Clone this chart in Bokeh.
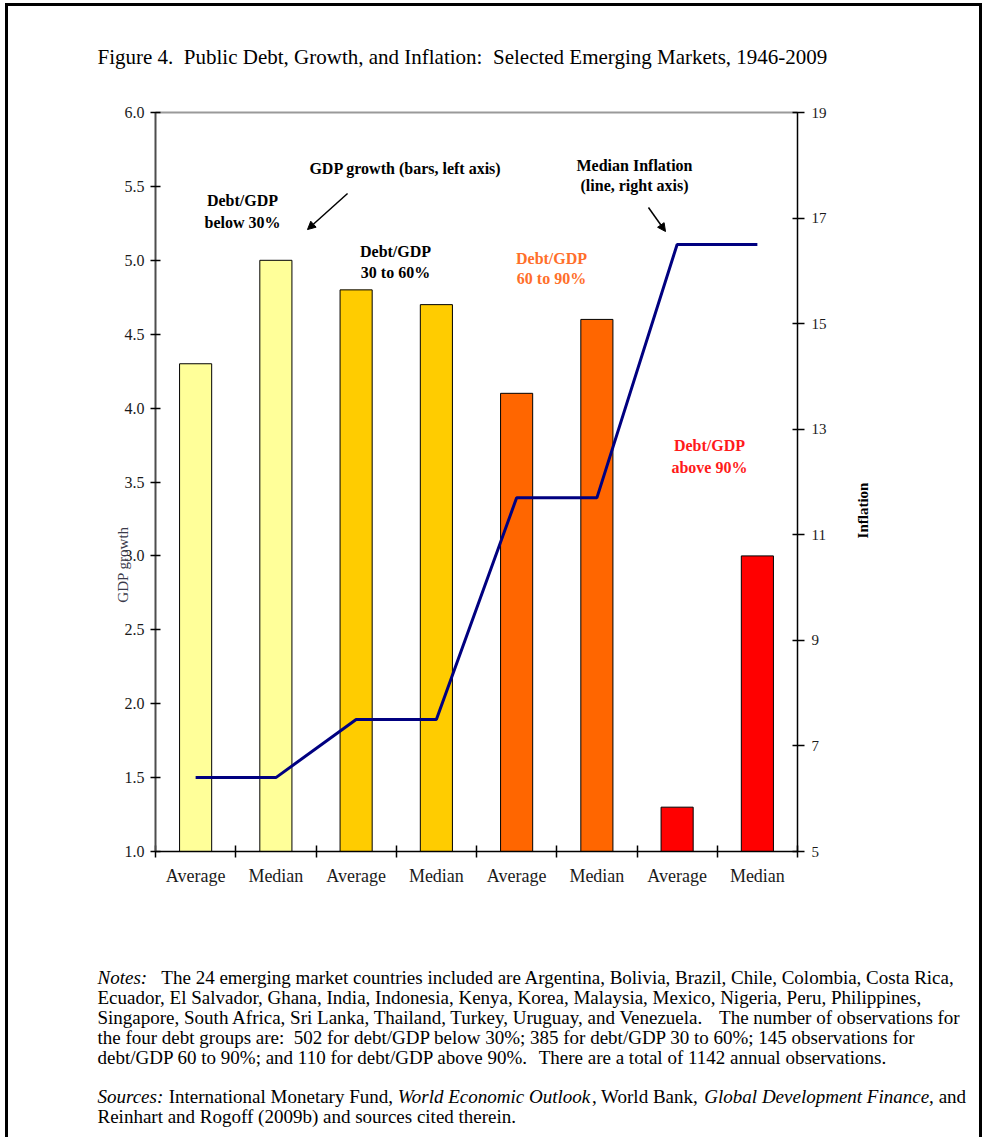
import math
import re
from bokeh.plotting import figure
from bokeh.models import (Range1d, LinearAxis, FixedTicker, Label, Arrow,
                          NormalHead, PrintfTickFormatter)
from bokeh.embed import file_html
from bokeh.resources import INLINE

# ---------------- data ----------------
groups = ["Debt/GDP below 30%", "Debt/GDP 30 to 60%", "Debt/GDP 60 to 90%", "Debt/GDP above 90%"]
stats = ["Average", "Median"]
gdp_growth = [4.3, 5.0, 4.8, 4.7, 4.1, 4.6, 1.3, 3.0]          # bars, left axis
median_inflation = [6.4, 6.4, 7.5, 7.5, 11.7, 11.7, 16.5, 16.5]  # line, right axis
group_colors = ["#FFFF99", "#FFCC00", "#FF6600", "#FF0000"]
left_ticks = [1.0, 1.5, 2.0, 2.5, 3.0, 3.5, 4.0, 4.5, 5.0, 5.5, 6.0]
right_ticks = [5, 7, 9, 11, 13, 15, 17, 19]
x_labels = [s for _ in groups for s in stats]
bar_colors = [c for c in group_colors for _ in stats]
xs = list(range(len(x_labels)))

title_text = "Figure 4.  Public Debt, Growth, and Inflation:  Selected Emerging Markets, 1946-2009"
notes_lines = [
    [("Notes:", True), ("   The 24 emerging market countries included are Argentina, Bolivia, Brazil, Chile, Colombia, Costa Rica,", False)],
    [("Ecuador, El Salvador, Ghana, India, Indonesia, Kenya, Korea, Malaysia, Mexico, Nigeria, Peru, Philippines,", False)],
    [("Singapore, South Africa, Sri Lanka, Thailand, Turkey, Uruguay, and Venezuela.  The number of observations for", False)],
    [("the four debt groups are:  502 for debt/GDP below 30%; 385 for debt/GDP 30 to 60%; 145 observations for", False)],
    [("debt/GDP 60 to 90%; and 110 for debt/GDP above 90%.  There are a total of 1142 annual observations.", False)],
]
sources_lines = [
    [("Sources:", True), (" International Monetary Fund, ", False), ("World Economic Outlook", True),
     (", World Bank, ", False), ("Global Development Finance,", True), (" and", False)],
    [("Reinhart and Rogoff (2009b) and sources cited therein.", False)],
]

SERIF = "Liberation Serif"

# ---------------- geometry ----------------
W, H = 977, 1134                 # canvas size
OX, OY = 8, 6                    # page position of the canvas origin
FL, FR, FT, FB = 147, 789, 106, 845   # chart area inside the canvas (px)

xlo, xhi = -0.5, len(xs) - 0.5
ylo, yhi = left_ticks[0], left_ticks[-1]
ilo, ihi = right_ticks[0], right_ticks[-1]
ppx = (FR - FL) / (xhi - xlo)
ppy = (FB - FT) / (yhi - ylo)
ppi = (FB - FT) / (ihi - ilo)

p = figure(width=W, height=H,
           x_range=Range1d(xlo - FL / ppx, xhi + (W - FR) / ppx),
           y_range=Range1d(ylo - (H - FB) / ppy, yhi + FT / ppy),
           x_axis_type=None, y_axis_type=None, toolbar_location=None, output_backend="svg",
           min_border=0, title=None)
p.extra_y_ranges = {"infl": Range1d(ilo - (H - FB) / ppi, ihi + FT / ppi)}
p.outline_line_color = None
p.background_fill_color = "white"
p.border_fill_color = "white"
p.styles = {"border-left": "3px solid black", "border-top": "3px solid black",
            "border-right": "3px solid black", "margin-left": "5px", "margin-top": "3px"}

def style_axis(ax, size):
    ax.major_label_text_font = SERIF
    ax.major_label_text_font_size = size
    ax.major_label_text_color = "#1a1a1a"
    ax.major_tick_line_color = "black"
    ax.major_tick_line_width = 1.5

xaxis = LinearAxis(ticker=FixedTicker(ticks=xs, minor_ticks=[i - 0.5 for i in range(len(xs) + 1)]),
                   major_label_overrides={i: lab for i, lab in enumerate(x_labels)},
                   fixed_location=ylo, bounds=(xlo, xhi))
style_axis(xaxis, "18px")
xaxis.major_tick_in = 0
xaxis.major_tick_out = 0
xaxis.minor_tick_in = 6
xaxis.minor_tick_out = 6
xaxis.minor_tick_line_color = "black"
xaxis.minor_tick_line_width = 1.5
xaxis.axis_line_color = "black"
xaxis.axis_line_width = 1.5
xaxis.major_label_standoff = 8
p.add_layout(xaxis, "below")

topline = LinearAxis(ticker=FixedTicker(ticks=[]), fixed_location=yhi, bounds=(xlo, xhi))
topline.axis_line_color = "#9a9a9a"
topline.axis_line_width = 2
topline.major_tick_line_color = None
topline.minor_tick_line_color = None
topline.major_label_text_font_size = "0px"
p.add_layout(topline, "above")

yaxis = LinearAxis(ticker=FixedTicker(ticks=left_ticks), formatter=PrintfTickFormatter(format="%.1f"),
                   fixed_location=xlo, bounds=(ylo, yhi))
style_axis(yaxis, "16px")
yaxis.major_tick_in = 5
yaxis.major_tick_out = 5
yaxis.axis_line_color = "#4d4d4d"
yaxis.axis_line_width = 2
yaxis.major_label_standoff = 6
p.add_layout(yaxis, "left")

raxis = LinearAxis(y_range_name="infl", ticker=FixedTicker(ticks=right_ticks),
                   fixed_location=xhi, bounds=(ilo, ihi))
style_axis(raxis, "15px")
raxis.major_tick_in = 5
raxis.major_tick_out = 7
raxis.axis_line_color = "black"
raxis.axis_line_width = 1.5
raxis.major_label_standoff = 7
p.add_layout(raxis, "right")

# bars and line
p.vbar(x=xs, top=gdp_growth, bottom=ylo, width=0.4, fill_color=bar_colors,
       line_color="black", line_width=1)
p.line(x=xs, y=median_inflation, y_range_name="infl", line_color="#000080", line_width=3)

# in-plot annotations (data coords)
def dlabel(x, y, text, color="black", size="16px", bold=True):
    p.add_layout(Label(x=x, y=y, text=text, text_align="center", text_baseline="middle",
                       text_font=SERIF, text_font_size=size, text_color=color,
                       text_font_style="bold" if bold else "normal"))

dlabel(2.615, 5.621, "GDP growth (bars, left axis)")
dlabel(0.584, 5.405, "Debt/GDP")
dlabel(0.584, 5.256, "below 30%")
dlabel(2.491, 5.060, "Debt/GDP")
dlabel(2.491, 4.917, "30 to 60%")
dlabel(4.435, 5.012, "Debt/GDP", color="#FF6F2A")
dlabel(4.435, 4.877, "60 to 90%", color="#FF6F2A")
dlabel(5.469, 5.641, "Median Inflation")
dlabel(5.469, 5.506, "(line, right axis)")
dlabel(6.403, 3.747, "Debt/GDP", color="#FF1A1A")
dlabel(6.403, 3.598, "above 90%", color="#FF1A1A")

p.add_layout(Arrow(end=NormalHead(size=8, fill_color="black", line_color="black"),
                   x_start=1.893, y_start=5.452, x_end=1.394, y_end=5.208,
                   line_color="black", line_width=1.5))
p.add_layout(Arrow(end=NormalHead(size=8, fill_color="black", line_color="black"),
                   x_start=5.643, y_start=5.357, x_end=5.855, y_end=5.195,
                   line_color="black", line_width=1.5))

# ---------------- texts around the chart (screen units) ----------------
REG = {' ': 250, '%': 833, '(': 333, ')': 333, ',': 250, '-': 333, '.': 250, '/': 278, ':': 278, ';': 278,
       'A': 722, 'B': 667, 'C': 667, 'D': 722, 'E': 611, 'F': 556, 'G': 722, 'H': 722, 'I': 333, 'J': 389,
       'K': 722, 'L': 611, 'M': 889, 'N': 722, 'O': 722, 'P': 556, 'Q': 722, 'R': 667, 'S': 556, 'T': 611,
       'U': 722, 'V': 722, 'W': 944, 'X': 722, 'Y': 722, 'Z': 611,
       'a': 444, 'b': 500, 'c': 444, 'd': 500, 'e': 444, 'f': 333, 'g': 500, 'h': 500, 'i': 278, 'j': 278,
       'k': 500, 'l': 278, 'm': 778, 'n': 500, 'o': 500, 'p': 500, 'q': 500, 'r': 333, 's': 389, 't': 278,
       'u': 500, 'v': 500, 'w': 722, 'x': 500, 'y': 500, 'z': 444}
ITA = {' ': 250, ',': 250, ':': 333, '.': 250, 'D': 722, 'E': 611, 'F': 611, 'G': 722, 'N': 667, 'O': 722,
       'S': 500, 'W': 833, 'a': 500, 'b': 500, 'c': 444, 'd': 500, 'e': 444, 'f': 278, 'g': 500, 'h': 500,
       'i': 278, 'k': 444, 'l': 278, 'm': 722, 'n': 500, 'o': 500, 'p': 500, 'r': 389, 's': 389, 't': 278,
       'u': 500, 'v': 444, 'w': 667, 'y': 444}

def tw(s, size, italic):
    table = ITA if italic else REG
    return sum(table.get(c, 500) for c in s) * size / 1000.0

def slabel(X, Y, text, size, italic=False, bold=False, align="left", angle=0.0, color="black"):
    style = "italic" if italic else ("bold" if bold else "normal")
    p.add_layout(Label(x=X - OX, y=H - (Y - OY), x_units="screen", y_units="screen", text=text,
                       text_align=align, text_baseline="middle", angle=angle,
                       text_font=SERIF, text_font_size=f"{size}px", text_font_style=style,
                       text_color=color))

def rich_line(X0, Y, pieces, size):
    x = X0
    for text, ital in pieces:
        for chunk in re.split(r"(\s{2,}|^\s+|\s+$)", text):
            if not chunk:
                continue
            if chunk.strip():
                slabel(x, Y, chunk, size, italic=ital)
            x += tw(chunk, size, ital)

rich_line(97, 56, [(title_text, False)], 21)

NOTE_SIZE = 19
for i, pieces in enumerate(notes_lines):
    rich_line(97, 977 + 20 * i, pieces, NOTE_SIZE)
for i, pieces in enumerate(sources_lines):
    rich_line(97, 1096 + 20 * i, pieces, NOTE_SIZE)

slabel(122, 564, "GDP growth", 15, align="center", angle=math.pi / 2, color="#3a3a4a")
slabel(862, 510, "Inflation", 15, bold=True, align="center", angle=math.pi / 2)

open("out.html", "w").write(file_html(p, INLINE, title="Figure 4"))
